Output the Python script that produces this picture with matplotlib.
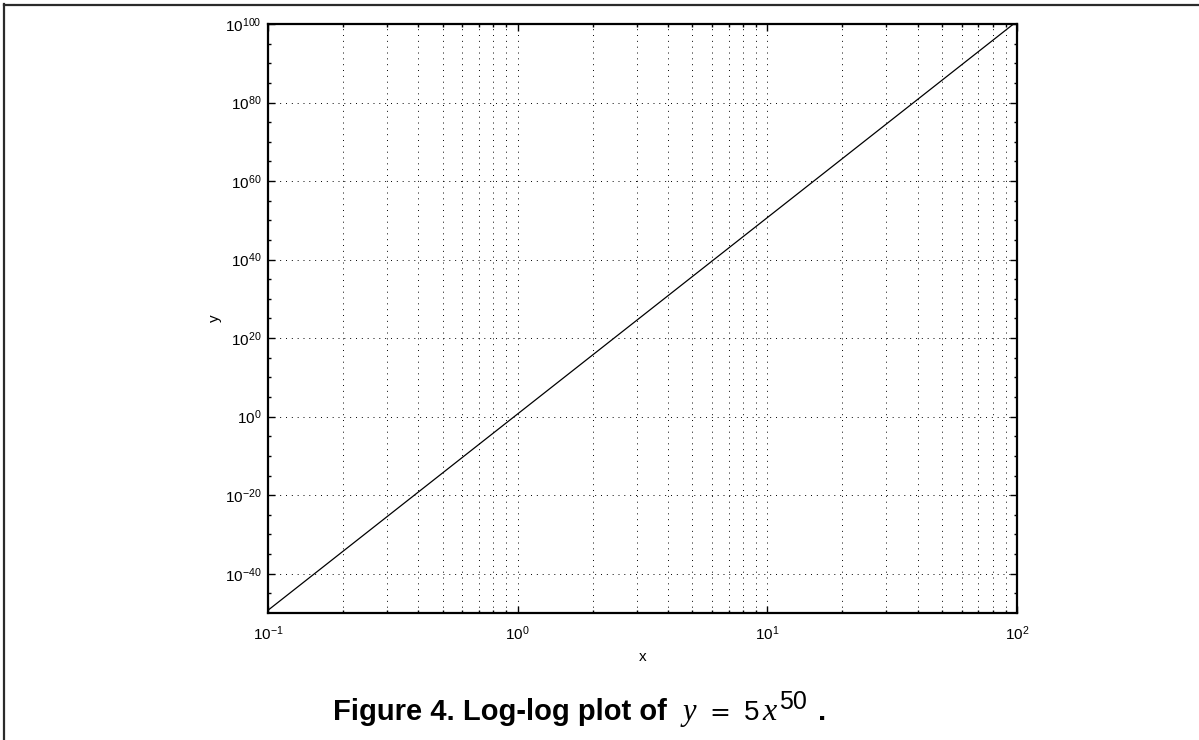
import numpy as np
import matplotlib
matplotlib.use("Agg")
import matplotlib.pyplot as plt
from matplotlib.ticker import FixedLocator, FixedFormatter, NullFormatter, LogLocator
from matplotlib.lines import Line2D

plt.rcParams['font.family'] = ['Liberation Sans', 'DejaVu Sans']
plt.rcParams['mathtext.fontset'] = 'custom'
plt.rcParams['mathtext.rm'] = 'Liberation Sans'
plt.rcParams['mathtext.it'] = 'Liberation Serif:italic'
plt.rcParams['mathtext.bf'] = 'Liberation Sans:bold'

# y = 5 x^50, end points
x_vals = [0.1, 100.0]
y_vals = [5e-50, 5e100]

x_ticks = [0.1, 1.0, 10.0, 100.0]
x_ticklabels = ['$\\mathdefault{10^{-1}}$', '$\\mathdefault{10^{0}}$',
                '$\\mathdefault{10^{1}}$', '$\\mathdefault{10^{2}}$']
y_exps = [-40, -20, 0, 20, 40, 60, 80, 100]
y_minor_exps = [-45, -35, -30, -25, -15, -10, -5, 5, 10, 15, 25, 30, 35,
                45, 50, 55, 65, 70, 75, 85, 90, 95]
y_ticklabels = ['$\\mathdefault{10^{%d}}$' % e for e in y_exps]

W, H = 1199, 740
fig = plt.figure(figsize=(W / 100, H / 100), dpi=100)
ax = fig.add_axes([268 / W, 127 / H, 749 / W, 589 / H])

ax.loglog(x_vals, y_vals, color='black', linewidth=0.9)
ax.set_xlim(0.1, 100)
ax.set_ylim(1e-50, 1e100)

ax.xaxis.set_major_locator(FixedLocator(x_ticks))
ax.xaxis.set_major_formatter(FixedFormatter(x_ticklabels))
ax.xaxis.set_minor_locator(LogLocator(base=10, subs=np.arange(2, 10)))
ax.xaxis.set_minor_formatter(NullFormatter())

ax.yaxis.set_major_locator(FixedLocator([10.0 ** e for e in y_exps]))
ax.yaxis.set_major_formatter(FixedFormatter(y_ticklabels))
ax.yaxis.set_minor_locator(FixedLocator([10.0 ** e for e in y_minor_exps]))
ax.yaxis.set_minor_formatter(NullFormatter())

ax.tick_params(which='both', direction='in', top=True, right=True,
               labelsize=11, width=1.0, color='black')
ax.tick_params(which='major', length=5)
ax.tick_params(which='minor', length=2.5)
ax.tick_params(axis='x', which='major', pad=8)
ax.tick_params(axis='y', which='major', pad=4.5)

dots = (0, (1, 5))
ax.grid(True, which='major', axis='both', color='black', linestyle=dots, linewidth=0.7)
ax.grid(True, which='minor', axis='x', color='black', linestyle=dots, linewidth=0.7)

for s in ax.spines.values():
    s.set_linewidth(1.6)

ax.set_xlabel('x', fontsize=11, labelpad=5)
ax.set_ylabel('y', fontsize=11, labelpad=2.5)

# caption under the plot: bold words, then the formula in math type
base = 20 / H
fig.text(333 / W, base, 'Figure 4. Log-log plot of', fontsize=21,
         fontweight='bold', ha='left', va='baseline')
fig.text(680 / W, base, '$y$', fontsize=22, ha='left', va='baseline')
fig.text(709 / W, base, '=', fontsize=18, family='DejaVu Sans', ha='left', va='baseline')
fig.text(744 / W, base, '5', fontsize=20, ha='left', va='baseline')
fig.text(762 / W, base, '$x$', fontsize=23, ha='left', va='baseline')
fig.text(779 / W, 31 / H, '50', fontsize=18, ha='left', va='baseline')
fig.text(818 / W, base, '.', fontsize=21, fontweight='bold', ha='left', va='baseline')

# frame lines on the top and left side of the page
fig.add_artist(Line2D([3.5 / W, 1.0], [1 - 5 / H, 1 - 5 / H],
                      color='#2b2b2b', linewidth=1.6, transform=fig.transFigure))
fig.add_artist(Line2D([4 / W, 4 / W], [0.0, 1 - 4 / H],
                      color='#2b2b2b', linewidth=1.6, transform=fig.transFigure))

fig.savefig('out.png', dpi=100)
